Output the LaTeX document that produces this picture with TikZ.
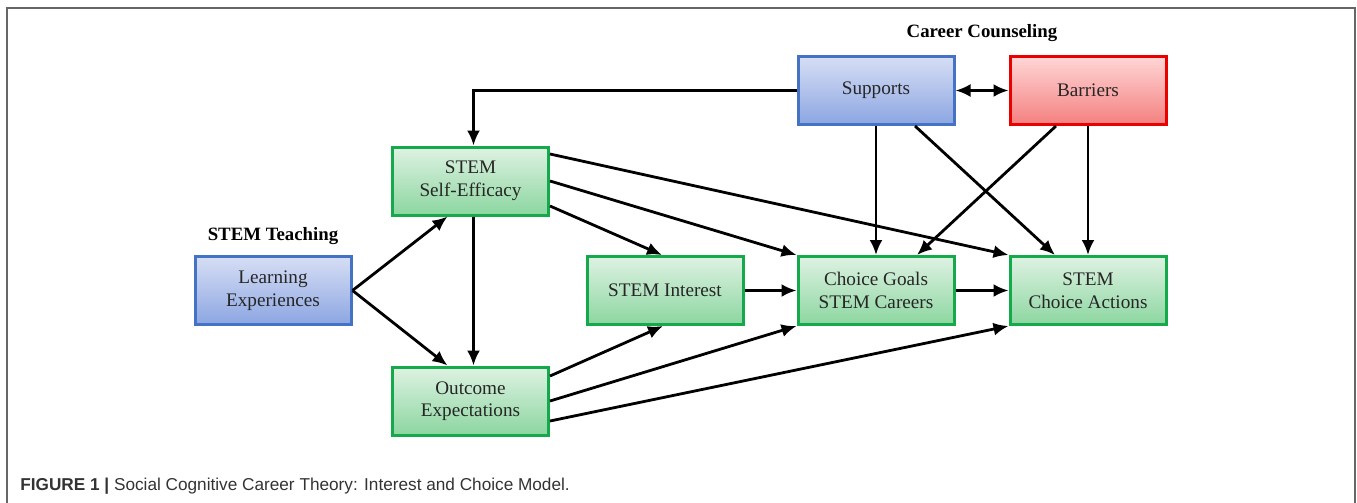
\documentclass[tikz,border=0pt]{standalone}
\usepackage{fontspec}
\setmainfont{Liberation Serif}
\setsansfont{Liberation Sans}
\usetikzlibrary{arrows.meta}

\definecolor{grnline}{RGB}{20,170,75}
\definecolor{grntop}{RGB}{222,242,226}
\definecolor{grnbot}{RGB}{140,214,160}
\definecolor{bluline}{RGB}{68,114,196}
\definecolor{blutop}{RGB}{214,222,244}
\definecolor{blubot}{RGB}{140,166,226}
\definecolor{redline}{RGB}{235,0,0}
\definecolor{redtop}{RGB}{255,214,214}
\definecolor{redbot}{RGB}{244,128,128}

\tikzset{
  box/.style={draw, line width=1.5pt, minimum width=78pt, minimum height=34pt,
    align=center, text=black!85, font=\rmfamily\fontsize{9.6}{11.3}\selectfont},
  greenbox/.style={box, draw=grnline, top color=grntop, bottom color=grnbot},
  bluebox/.style={box, draw=bluline, top color=blutop, bottom color=blubot},
  redbox/.style={box, draw=redline, top color=redtop, bottom color=redbot},
  arr/.style={-{Latex[length=7.5pt,width=6.5pt]}, line width=1.4pt},
  dblarr/.style={{Latex[length=7.5pt,width=6.5pt]}-{Latex[length=7.5pt,width=6.5pt]}, line width=1.4pt},
  head/.style={font=\rmfamily\bfseries\fontsize{9.4}{11}\selectfont}
}

\begin{document}
\begin{tikzpicture}[x=0.5pt,y=-0.5pt]
\useasboundingbox (0,0) rectangle (1357,503);
\draw[line width=1pt, black!60] (7,503) -- (7,8) -- (1355,8) -- (1355,503); % frame

% boxes
\node[bluebox] (le) at (273,290.5) {Learning\\Experiences};
\node[greenbox] (se) at (470.5,181) {STEM\\Self-Efficacy};
\node[greenbox] (oe) at (470.5,401) {Outcome\\Expectations};
\node[greenbox] (si) at (665,290.5) {STEM Interest};
\node[greenbox] (cg) at (876,290.5) {Choice Goals\\STEM Careers};
\node[greenbox] (sa) at (1088,290.5) {STEM\\Choice Actions};
\node[bluebox] (sup) at (876,90.5) {Supports};
\node[redbox] (bar) at (1088,90.5) {Barriers};

% headings
\node[head] (teach) at (273,236) {STEM Teaching};
\node[head] (couns) at (982,33) {Career Counseling};

% arrows
\draw[arr] (le.east) -- ([xshift=-11.5pt]se.south);
\draw[arr] (le.east) -- ([xshift=-11.5pt]oe.north);
\draw[arr] ([xshift=1.5pt]se.south) -- ([xshift=1.5pt]oe.north);
\draw[arr] (sup.west) -| ([xshift=1.5pt]se.north);
\draw[dblarr] (sup.east) -- (bar.west);
\draw[arr] (sup.south) -- (cg.north);
\draw[arr] ([xshift=19.5pt]sup.south) -- ([xshift=-16.5pt]sa.north);
\draw[arr] ([xshift=-16pt]bar.south) -- ([xshift=20.5pt]cg.north);
\draw[arr] (bar.south) -- (sa.north);
\draw[arr] ([yshift=13.5pt]se.east) -- (sa.north west);
\draw[arr] (se.east) -- (cg.north west);
\draw[arr] ([yshift=-12.5pt]se.east) -- ([xshift=-1.5pt]si.north);
\draw[arr] ([yshift=12.5pt]oe.east) -- ([xshift=-1pt]si.south);
\draw[arr] (oe.east) -- (cg.south west);
\draw[arr] ([yshift=-10pt]oe.east) -- (sa.south west);
\foreach \a/\b in {si/cg,cg/sa} % horizontal links
\draw[arr] (\a.east) -- (\b.west);

% caption
\node[anchor=base west, inner sep=0pt, font=\sffamily\fontsize{8.6}{10}\selectfont, text=black!80] (cap) at (20,490)
  {\textbf{FIGURE 1 |} Social Cognitive Career Theory: Interest and Choice Model.};
\end{tikzpicture}
\end{document}
